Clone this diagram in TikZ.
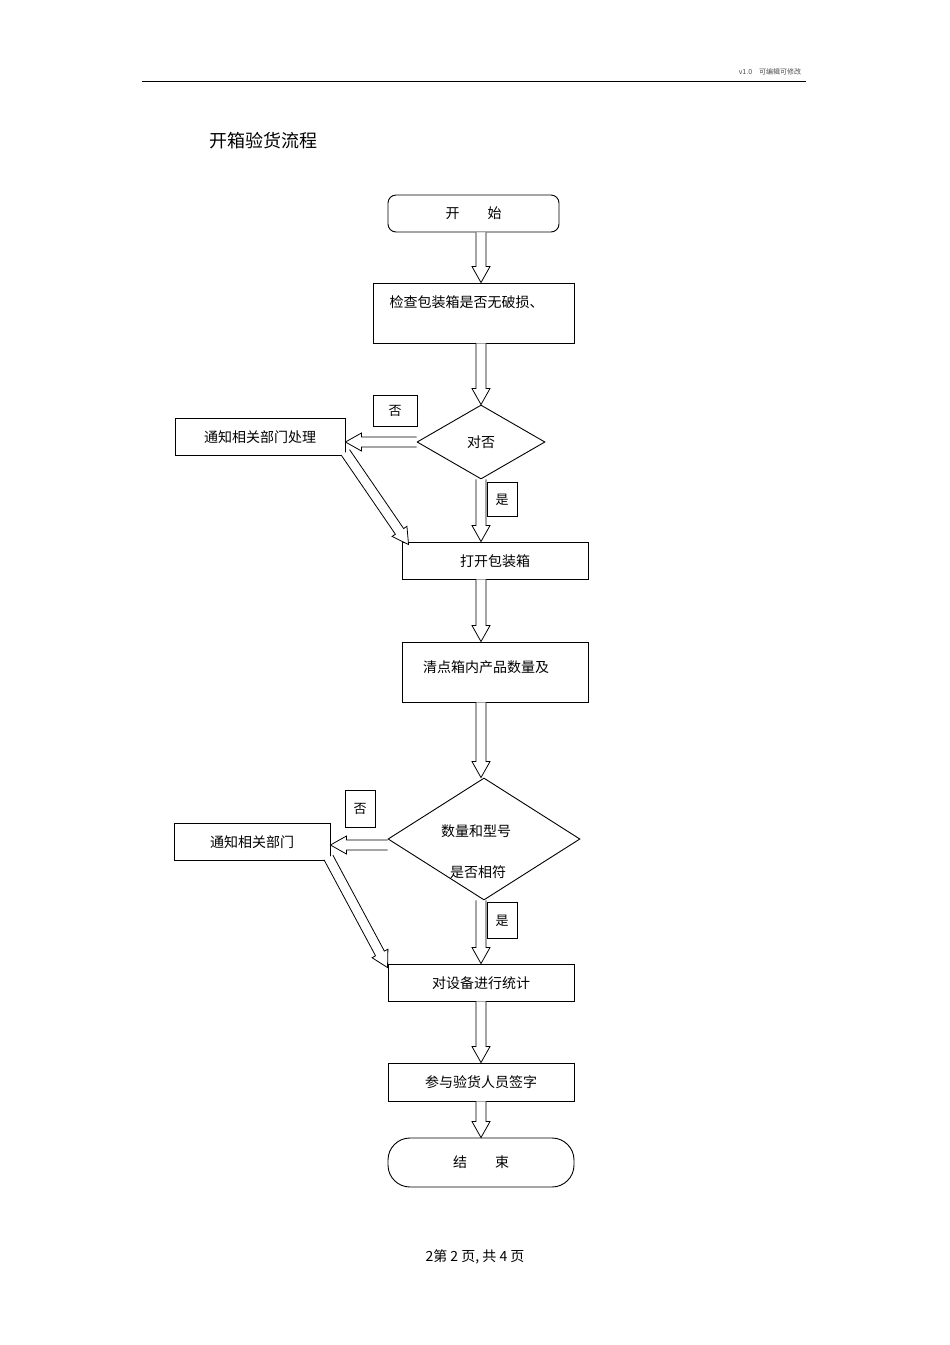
\documentclass[tikz,border=0pt]{standalone}
\usepackage{fontspec}
\setmainfont{Noto Sans CJK SC}
\usetikzlibrary{calc,shapes.geometric}

\tikzset{
    box/.style={draw, line width=0.9pt, minimum width=#1, inner sep=0pt},
    flag/.style={draw, line width=0.9pt, inner sep=0pt, font=\fontsize{13}{13}\selectfont},
    cond/.style={diamond, draw, line width=0.9pt, inner sep=0pt},
    blk/.style={draw, line width=0.8pt, fill=white, line join=miter},
}
\newcommand{\blockarrow}[2]{%
    \coordinate (h) at ($(#2)!16pt!(#1)$);
    \draw[blk] ($(#1)!5pt!90:(#2)$) -- ($(h)!5pt!-90:(#1)$) -- ($(h)!9pt!-90:(#1)$)
        -- (#2) -- ($(h)!9pt!90:(#1)$) -- ($(h)!5pt!90:(#1)$) -- ($(#1)!5pt!-90:(#2)$);
}

\begin{document}
\begin{tikzpicture}[x=1pt, y=-1pt, font=\fontsize{14}{14}\selectfont]
\useasboundingbox (0,0) rectangle (950,1345);
% page header
\draw[line width=0.6pt] (142,81) -- (806,81);
\node[font=\fontsize{7}{7}\selectfont, text=black!70] (ver) at (770,72) {v1.0\quad 可编辑可修改};
\node[font=\fontsize{18}{18}\selectfont] (title) at (263,141) {开箱验货流程};
% nodes
\node[box=171pt, minimum height=37pt, rounded corners=8pt] (start) at (473.5,213.5) {开\qquad 始};
\node[box=201pt, minimum height=60pt, text depth=22pt] (check) at (473.5,313) {\hspace*{-14pt}检查包装箱是否无破损、};
\node[cond, minimum width=128pt, minimum height=74pt] (ok) at (481,442) {对否};
\node[box=170pt, minimum height=37pt, text depth=-6pt] (notifyA) at (260,436.5) {通知相关部门处理};
\node[flag, minimum width=44pt, minimum height=31pt] (noA) at (395,410.5) {否};
\node[flag, minimum width=30pt, minimum height=34pt, text depth=-8pt] (yesA) at (502,499) {是};
\node[box=186pt, minimum height=37pt, text depth=-8pt] (open) at (495,560.5) {打开包装箱};
\node[box=186pt, minimum height=60pt] (count) at (495,672) {};
\node (countT) at (486,667) {清点箱内产品数量及};
\node[cond, minimum width=192pt, minimum height=122pt] (match) at (484,839) {};
\node (matchA) at (476,831) {数量和型号};
\node (matchB) at (478,872) {是否相符};
\node[box=156pt, minimum height=37pt, text depth=-8pt] (notifyB) at (252,841.5) {通知相关部门};
\node[flag, minimum width=30pt, minimum height=37pt, text depth=-8pt] (noB) at (360,808.5) {否};
\node[flag, minimum width=30pt, minimum height=36pt, text depth=-8pt] (yesB) at (502,920) {是};
\node[box=186pt, minimum height=37pt, text depth=-8pt] (stat) at (481,982.5) {对设备进行统计};
\node[box=186pt, minimum height=38pt, text depth=-8pt] (sign) at (481,1082) {参与验货人员签字};
\node[box=186pt, minimum height=49pt, rounded corners=22pt] (stop) at (481,1162.5) {结\qquad 束};
\node (foot) at (475,1257) {2第 2 页, 共 4 页};
% connectors
\coordinate (a1) at (start.south -| ok.north);
\coordinate (a2) at (check.south -| ok.north);
\coordinate (a3) at (open.north -| ok.south);
\coordinate (a4) at (open.south -| ok.south);
\coordinate (a5) at (count.north -| ok.south);
\coordinate (a6) at (count.south -| ok.south);
\coordinate (a7) at (match.north -| ok.south);
\coordinate (a8) at (match.south -| ok.south);
\coordinate (a9) at (stat.north -| ok.south);
\coordinate (a10) at (stat.south);
\coordinate (a11) at (sign.north);
\coordinate (a12) at (sign.south);
\coordinate (a13) at (stop.north);
\coordinate (b1) at ($(notifyA.south east)+(0,-3)$);
\coordinate (b2) at ($(open.north west)+(7,3)$);
\coordinate (c1) at ($(notifyB.south east)+(-2,-3)$);
\coordinate (c2) at ($(stat.north west)+(0,4)$);
\coordinate (dA) at ($(match.west)+(0,6)$);
\coordinate (dB) at (dA -| notifyB.east);
\blockarrow{a1}{check.north -| a1}
\blockarrow{a2}{ok.north}
\blockarrow{ok.west}{notifyA.east |- ok.west}
\blockarrow{b1}{b2}
\blockarrow{ok.south}{a3}
\blockarrow{a4}{a5}
\blockarrow{a6}{a7}
\blockarrow{dA}{dB}
\blockarrow{c1}{c2}
\blockarrow{a8}{a9}
\blockarrow{a10}{a11}
\blockarrow{a12}{a13}
\end{tikzpicture}
\end{document}
